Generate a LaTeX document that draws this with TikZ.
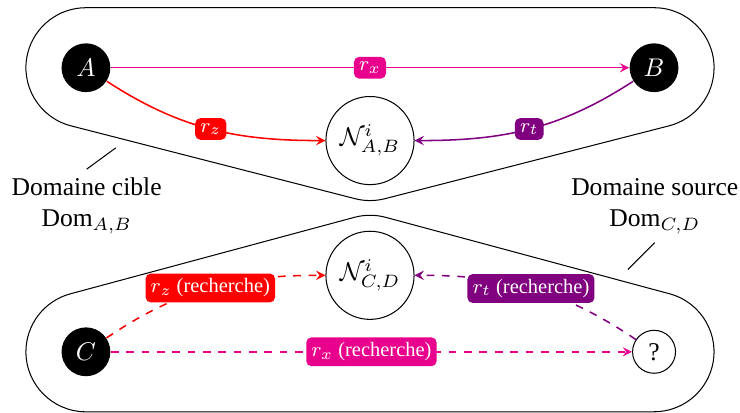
\documentclass[tikz,border=0pt]{standalone}
\usepackage{fontspec}
\setmainfont{Liberation Serif}
\usepackage{amsmath}
\definecolor{colx}{RGB}{233,0,140}
\definecolor{colz}{RGB}{255,0,0}
\definecolor{colt}{RGB}{128,0,128}

\begin{document}
\begin{tikzpicture}[
	ent/.style = {circle, fill=black, text=white, minimum size=0.67cm, inner sep=0pt},
	voisin/.style = {circle, draw, minimum size=1.21cm, inner sep=0pt},
	inconnu/.style = {circle, draw, minimum size=0.59cm, inner sep=0pt},
	rel/.style = {fill=#1, text=white, rounded corners=2pt, font=\footnotesize, inner sep=2pt},
	lien/.style = {semithick, -stealth, #1}]
	\useasboundingbox (-5.08,-2.83) rectangle (5.08,2.83);
	% domaine cible
	\draw (-3.9,2.724) -- (3.9,2.724) arc (90:-75.6:0.824) -- (0.205,0.102) arc (-75.6:-104.4:0.824) -- (-4.105,1.102) arc (255.6:90:0.824) -- cycle;
	% domaine source
	\draw (3.9,-2.824) -- (-3.9,-2.824) arc (270:105.1:0.824) -- (-0.214,-0.154) arc (105.1:74.9:0.824) -- (4.114,-1.204) arc (74.9:-90:0.824) -- cycle;
	\node [ent] (A) at (-3.9,1.9) {\(A\)};
	\node [ent] (B) at (3.9,1.9) {\(B\)};
	\node [voisin] (nab) at (0,0.9) {\(\mathcal{N}^i_{A,B}\)};
	\node [voisin] (ncd) at (0,-0.95) {\(\mathcal{N}^i_{C,D}\)};
	\node [ent] (C) at (-3.9,-2) {\(C\)};
	\node [inconnu] (D) at (3.9,-2) {?};
	\node [align=center] (cible) at (-3.89,0) {Domaine cible\\Dom\(_{A,B}\)};
	\node [align=center] (source) at (3.91,0) {Domaine source\\Dom\(_{C,D}\)};
	\coordinate (pcible) at (-3.49,0.80);
	\coordinate (psource) at (3.54,-0.87);
	\draw (cible.north) -- (pcible);
	\draw (source.south) -- (psource);
	% relations
	\draw [lien=colx] (A) -- node [rel=colx] {\(r_x\)} (B);
	\draw [lien=colz] (A) to [out=-33,in=180] node [rel=colz] {\(r_z\)} (nab);
	\draw [lien=colt] (B) to [out=-147,in=0] node [rel=colt] {\(r_t\)} (nab);
	\draw [lien=colx, dashed] (C) -- node [rel=colx] {\(r_x\) (recherche)} (D);
	\draw [lien=colz, dashed] (C) to [out=34,in=180] node [rel=colz] {\(r_z\) (recherche)} (ncd);
	\draw [lien=colt, dashed] (D) to [out=146,in=0] node [rel=colt] {\(r_t\) (recherche)} (ncd);
\end{tikzpicture}
\end{document}
